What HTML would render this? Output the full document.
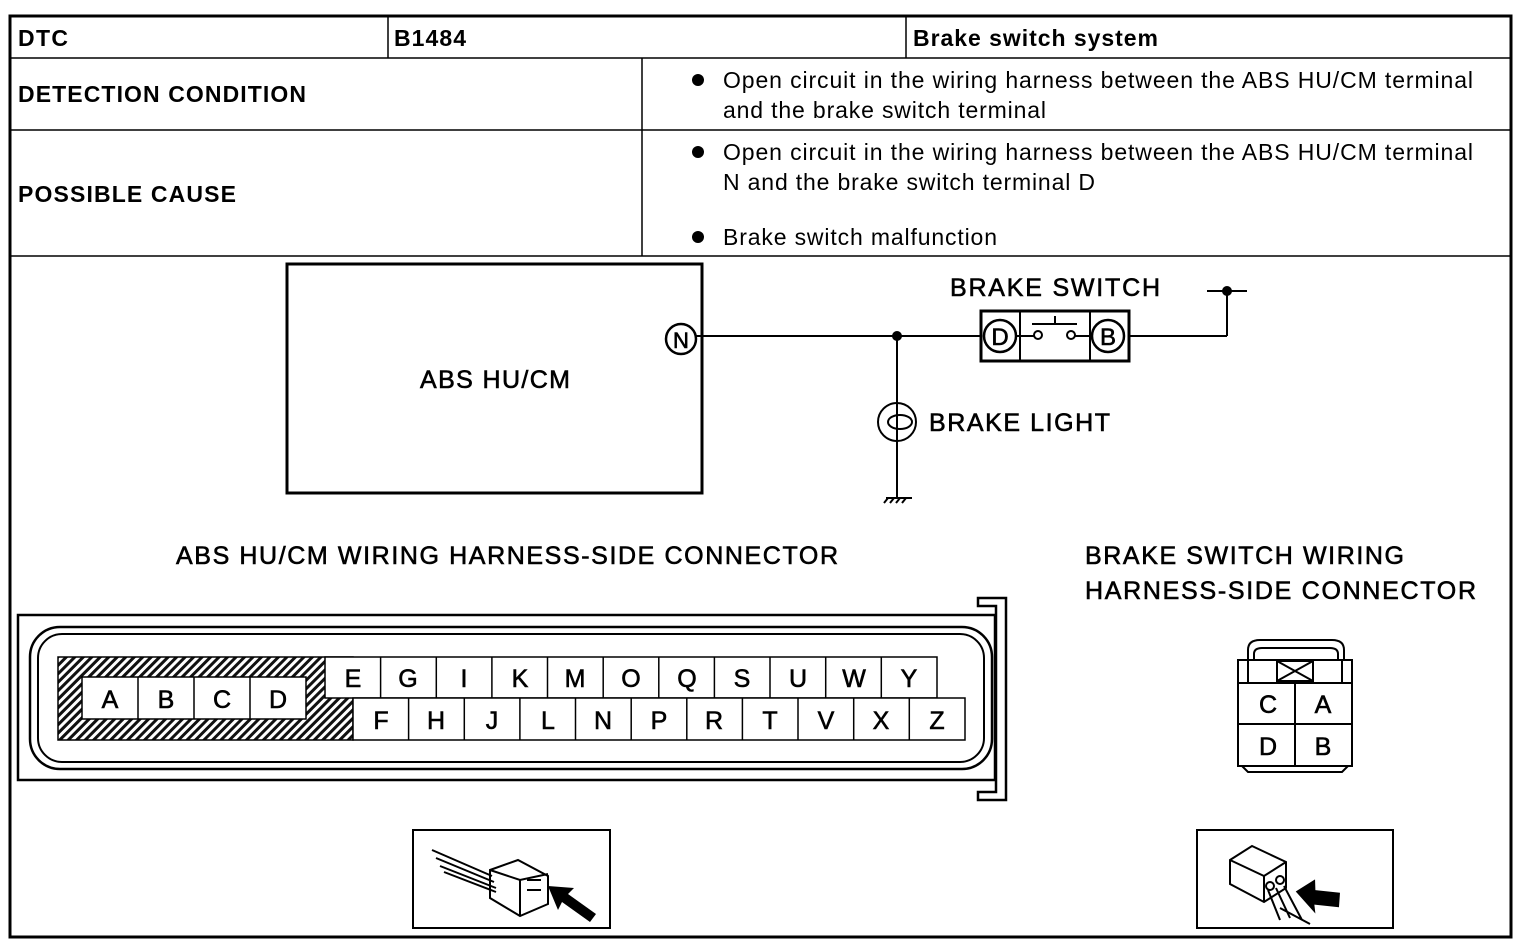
<!DOCTYPE html>
<html><head><meta charset="utf-8"><style>
body{margin:0;background:#fff}
svg{display:block;font-family:"Liberation Sans",Arial,sans-serif}
</style></head><body>
<svg width="1526" height="950" viewBox="0 0 1526 950">
<defs>
<pattern id="h" width="6" height="6" patternUnits="userSpaceOnUse" patternTransform="rotate(45)">
<rect width="6" height="6" fill="#fff"/><rect width="3" height="6" fill="#111"/></pattern>
</defs>
<g stroke="#000" fill="none">
<rect x="10" y="16" width="1501" height="921" stroke-width="3"/>
<line x1="10" y1="58" x2="1511" y2="58" stroke-width="1.5"/>
<line x1="10" y1="130" x2="1511" y2="130" stroke-width="1.5"/>
<line x1="10" y1="256" x2="1511" y2="256" stroke-width="1.5"/>
<line x1="388" y1="16" x2="388" y2="58" stroke-width="1.5"/>
<line x1="906" y1="16" x2="906" y2="58" stroke-width="1.5"/>
<line x1="642" y1="58" x2="642" y2="256" stroke-width="1.5"/>
</g>
<g font-size="23" font-weight="bold" lengthAdjust="spacingAndGlyphs">
<text x="18" y="46" textLength="50">DTC</text><text x="394" y="46" textLength="72">B1484</text><text x="913" y="46" textLength="245">Brake switch system</text>
<text x="18" y="102" textLength="288">DETECTION CONDITION</text><text x="18" y="202" textLength="218">POSSIBLE CAUSE</text>
</g>
<g font-size="23" lengthAdjust="spacingAndGlyphs">
<circle cx="698" cy="80" r="6"/><circle cx="698" cy="152" r="6"/><circle cx="698" cy="237" r="6"/>
<text x="723" y="88" textLength="750">Open circuit in the wiring harness between the ABS HU/CM terminal</text>
<text x="723" y="118" textLength="323">and the brake switch terminal</text>
<text x="723" y="160" textLength="750">Open circuit in the wiring harness between the ABS HU/CM terminal</text>
<text x="723" y="190" textLength="372">N and the brake switch terminal D</text>
<text x="723" y="245" textLength="274">Brake switch malfunction</text>
</g>
<!-- circuit -->
<g stroke="#000" fill="none" stroke-width="2">
<rect x="287" y="264" width="415" height="229" stroke-width="3"/>
<circle cx="681" cy="339" r="15" stroke-width="2.5"/>
<line x1="696" y1="336" x2="982" y2="336"/>
<line x1="897" y1="336" x2="897" y2="498"/>
<circle cx="897" cy="422" r="19" fill="#fff"/>
<path d="M897 403v38" />
<ellipse cx="900" cy="422" rx="12" ry="7"/>
<line x1="886" y1="498" x2="912" y2="498"/>
<path d="M888 498l-4 5M894 498l-4 5M900 498l-4 5M906 498l-4 5"/>
<rect x="981" y="311" width="148" height="50" stroke-width="3"/>
<line x1="1020" y1="311" x2="1020" y2="361"/><line x1="1090" y1="311" x2="1090" y2="361"/>
<circle cx="1000" cy="336" r="16" stroke-width="2.5"/><circle cx="1108" cy="336" r="16" stroke-width="2.5"/>
<circle cx="1038" cy="335" r="4"/><circle cx="1071" cy="335" r="4"/>
<line x1="1016" y1="336" x2="1034" y2="336"/><line x1="1075" y1="336" x2="1092" y2="336"/>
<line x1="1032" y1="324" x2="1077" y2="324"/><line x1="1055" y1="316" x2="1055" y2="324"/>
<line x1="1129" y1="336" x2="1227" y2="336"/><line x1="1227" y1="336" x2="1227" y2="291"/>
<line x1="1207" y1="291" x2="1247" y2="291"/>
</g>
<circle cx="897" cy="336" r="5"/><circle cx="1227" cy="291" r="5"/>
<g text-anchor="middle" stroke="#000" stroke-width="0.6">
<text x="681" y="348" font-size="22">N</text>
<text x="1000" y="345" font-size="24">D</text><text x="1108" y="345" font-size="24">B</text>
</g>
<g font-size="25" stroke="#000" stroke-width="0.6" lengthAdjust="spacingAndGlyphs">
<text x="420" y="388" textLength="150">ABS  HU/CM</text>
<text x="950" y="296" textLength="210">BRAKE SWITCH</text>
<text x="929" y="431" textLength="181">BRAKE LIGHT</text>
<text x="176" y="564" textLength="662">ABS HU/CM WIRING HARNESS-SIDE CONNECTOR</text>
<text x="1085" y="564" textLength="319">BRAKE SWITCH WIRING</text>
<text x="1085" y="599" textLength="391">HARNESS-SIDE CONNECTOR</text>
</g>
<!-- big connector -->
<g stroke="#000" fill="none" stroke-width="2.5">
<rect x="18" y="615" width="977" height="165"/>
<path d="M978 598h28v202h-28v-8h18v-186h-18z" stroke-width="2.5"/>
<rect x="30" y="627" width="962" height="142" rx="30"/>
<rect x="38" y="634" width="946" height="128" rx="24" stroke-width="2"/>
<rect x="58" y="657" width="295" height="83" fill="url(#h)" stroke-width="1.5"/>
</g>
<g stroke="#000" fill="#fff" stroke-width="1.5">
<rect x="82" y="677" width="224" height="42"/>
<line x1="138" y1="677" x2="138" y2="719"/><line x1="194" y1="677" x2="194" y2="719"/><line x1="250" y1="677" x2="250" y2="719"/>
<rect x="325" y="657" width="612" height="41"/>
<rect x="353" y="698" width="612" height="42"/>
</g>
<g stroke="#000" stroke-width="1.5">
<line x1="380.6" y1="657" x2="380.6" y2="698"/><line x1="436.3" y1="657" x2="436.3" y2="698"/><line x1="491.9" y1="657" x2="491.9" y2="698"/><line x1="547.5" y1="657" x2="547.5" y2="698"/><line x1="603.2" y1="657" x2="603.2" y2="698"/><line x1="658.8" y1="657" x2="658.8" y2="698"/><line x1="714.4" y1="657" x2="714.4" y2="698"/><line x1="770" y1="657" x2="770" y2="698"/><line x1="825.7" y1="657" x2="825.7" y2="698"/><line x1="881.3" y1="657" x2="881.3" y2="698"/>
<line x1="408.6" y1="698" x2="408.6" y2="740"/><line x1="464.3" y1="698" x2="464.3" y2="740"/><line x1="519.9" y1="698" x2="519.9" y2="740"/><line x1="575.5" y1="698" x2="575.5" y2="740"/><line x1="631.2" y1="698" x2="631.2" y2="740"/><line x1="686.8" y1="698" x2="686.8" y2="740"/><line x1="742.4" y1="698" x2="742.4" y2="740"/><line x1="798" y1="698" x2="798" y2="740"/><line x1="853.7" y1="698" x2="853.7" y2="740"/><line x1="909.3" y1="698" x2="909.3" y2="740"/>
</g>
<g font-size="25" text-anchor="middle" stroke="#000" stroke-width="0.6">
<text x="110" y="708">A</text><text x="166" y="708">B</text><text x="222" y="708">C</text><text x="278" y="708">D</text>
<text x="353" y="687">E</text><text x="408" y="687">G</text><text x="464" y="687">I</text><text x="520" y="687">K</text><text x="575" y="687">M</text><text x="631" y="687">O</text><text x="687" y="687">Q</text><text x="742" y="687">S</text><text x="798" y="687">U</text><text x="854" y="687">W</text><text x="909" y="687">Y</text>
<text x="381" y="729">F</text><text x="436" y="729">H</text><text x="492" y="729">J</text><text x="548" y="729">L</text><text x="603" y="729">N</text><text x="659" y="729">P</text><text x="714" y="729">R</text><text x="770" y="729">T</text><text x="826" y="729">V</text><text x="881" y="729">X</text><text x="937" y="729">Z</text>
</g>
<!-- small connector -->
<g stroke="#000" fill="none" stroke-width="2">
<path d="M1248 660v-10q0-10 12-10h72q12 0 12 10v10"/>
<path d="M1254 660v-6q0-6 8-6h68q8 0 8 6v6"/>
<rect x="1238" y="660" width="114" height="106"/>
<line x1="1238" y1="683" x2="1352" y2="683"/><line x1="1238" y1="724" x2="1352" y2="724"/>
<line x1="1295" y1="683" x2="1295" y2="766"/>
<line x1="1248" y1="660" x2="1248" y2="683"/><line x1="1342" y1="660" x2="1342" y2="683"/>
<rect x="1277" y="661" width="36" height="20"/><path d="M1277 661l36 20M1313 661l-36 20"/>
<path d="M1242 766l6 6h94l6-6"/>
</g>
<g font-size="25" text-anchor="middle" stroke="#000" stroke-width="0.6">
<text x="1268" y="713">C</text><text x="1323" y="713">A</text><text x="1268" y="755">D</text><text x="1323" y="755">B</text>
</g>
<!-- icons -->
<g stroke="#000" fill="none" stroke-width="2">
<rect x="413" y="830" width="197" height="98"/>
<rect x="1197" y="830" width="196" height="98"/>
<path d="M432 850l60 26M436 858l58 24M440 866l56 22M444 872l52 20"/>
<path d="M490 870l28-10 30 16v28l-28 12-30-18z M520 880v36 M490 870l30 10 28-6"/>
<path d="M527 880h14M527 890h14"/>
<path d="M1230 860l22-14 34 16v26l-22 14-34-18z M1264 876v26 M1230 860l34 16 22-14"/>
<circle cx="1270" cy="886" r="4"/><circle cx="1280" cy="880" r="4"/>
<path d="M1268 890l12 30M1276 888l14 30M1284 886l18 34M1280 908l30 16"/>
</g>
<path d="M548 886l26 2-6 6 28 20-6 8-28-20-4 8z" fill="#000"/>
<path d="M1296 900l14-18 4 10 24 -6 4 14-24 6 4 8z" fill="#000" transform="rotate(20 1320 895)"/>
</svg>
</body></html>
